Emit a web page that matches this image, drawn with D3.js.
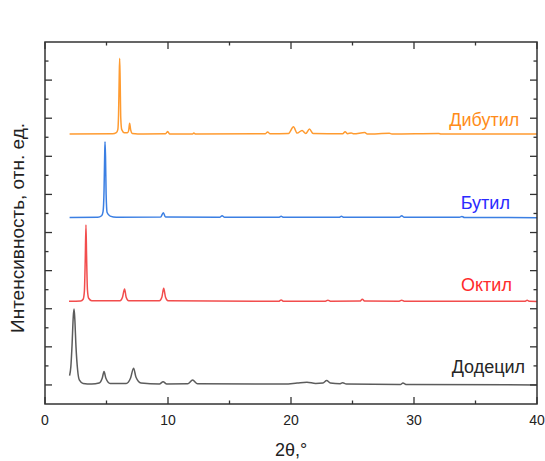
<!DOCTYPE html>
<html>
<head>
<meta charset="utf-8">
<script src="https://cdn.jsdelivr.net/npm/d3@7"></script>
<style>
  html, body { margin: 0; padding: 0; background: #fff; }
  svg { display: block; font-family: Arial, "Liberation Sans", sans-serif; }
</style>
</head>
<body>
<div id="chart"></div>
<script>
// XRD patterns, stacked (in plot units)
const seriesNames = ['Додецил', 'Октил', 'Бутил', 'Дибутил'];
const lineColors = ['#5c5c5c', '#f24d4d', '#3b7fe3', '#ff9b30'];
const labelColors = ['#262626', '#ff2b2b', '#2a2aff', '#ff8c1a'];

const dodecyl = [
  [2.0, 1.49], [2.1, 1.95], [2.2, 3.1], [2.3, 4.6], [2.36, 4.98], [2.42, 4.5], [2.52, 3.0],
  [2.65, 1.8], [2.8, 1.25], [3.1, 1.08], [3.8, 1.05], [4.4, 1.1], [4.65, 1.35], [4.8, 1.70],
  [4.95, 1.35], [5.3, 1.08], [6.6, 1.08], [6.95, 1.35], [7.2, 1.88], [7.4, 1.4], [7.8, 1.1],
  [9.3, 1.05], [9.6, 1.17], [9.9, 1.05], [11.6, 1.06], [12.0, 1.26], [12.4, 1.06],
  [19.5, 1.05], [20.5, 1.1], [21.3, 1.14], [22.0, 1.08], [22.6, 1.1], [22.9, 1.23], [23.2, 1.1],
  [24.0, 1.06], [24.2, 1.12], [24.5, 1.05], [28.9, 1.03], [29.1, 1.1], [29.4, 1.02], [40, 1.0]
];
const octyl = [
  [1.95, 5.39], [2.9, 5.41], [3.1, 5.5], [3.2, 5.9], [3.27, 7.5], [3.33, 9.40], [3.38, 7.8],
  [3.45, 6.0], [3.55, 5.55], [3.8, 5.42], [6.1, 5.42], [6.3, 5.6], [6.47, 6.04], [6.6, 5.6],
  [6.8, 5.42], [9.3, 5.42], [9.5, 5.6], [9.65, 6.07], [9.8, 5.6], [10.0, 5.42], [19.0, 5.39],
  [19.2, 5.46], [19.4, 5.39], [22.8, 5.39], [23.0, 5.45], [23.2, 5.39], [25.6, 5.4], [25.8, 5.5],
  [26.0, 5.4], [28.8, 5.39], [29.0, 5.45], [29.2, 5.39], [39.0, 5.39], [39.2, 5.44], [39.4, 5.39],
  [40, 5.38]
];
const butyl = [
  [2.0, 9.79], [4.3, 9.8], [4.6, 9.88], [4.72, 10.1], [4.8, 11.2], [4.85, 13.0], [4.88, 13.77],
  [4.92, 13.0], [4.97, 11.0], [5.05, 10.05], [5.3, 9.86], [5.8, 9.8], [9.4, 9.81], [9.62, 10.04],
  [9.8, 9.81], [14.2, 9.8], [14.4, 9.88], [14.6, 9.8], [19.0, 9.8], [19.2, 9.85], [19.4, 9.8],
  [23.9, 9.8], [24.1, 9.85], [24.3, 9.8], [28.8, 9.8], [29.0, 9.88], [29.2, 9.8], [33.7, 9.8],
  [33.9, 9.84], [34.1, 9.79], [40, 9.78]
];
const dibutyl = [
  [2.0, 14.17], [5.5, 14.18], [5.8, 14.24], [5.92, 14.4], [5.98, 15.2], [6.03, 17.0], [6.07, 18.15],
  [6.11, 17.0], [6.16, 15.0], [6.24, 14.4], [6.45, 14.24], [6.7, 14.24], [6.8, 14.35], [6.88, 14.73],
  [6.96, 14.4], [7.1, 14.2], [8.0, 14.17], [9.8, 14.18], [9.97, 14.3], [10.15, 14.17], [12.0, 14.17],
  [12.1, 14.22], [12.25, 14.17], [17.9, 14.18], [18.1, 14.28], [18.3, 14.18], [19.8, 14.2],
  [20.2, 14.55], [20.5, 14.22], [20.9, 14.36], [21.2, 14.2], [21.5, 14.43], [21.8, 14.2],
  [24.2, 14.18], [24.4, 14.29], [24.6, 14.19], [24.9, 14.23], [25.1, 14.18], [26.0, 14.25],
  [26.2, 14.17], [28.0, 14.21], [28.2, 14.17], [32.0, 14.2], [32.2, 14.17], [40, 14.17]
];
const seriesData = [dodecyl, octyl, butyl, dibutyl];

const xTicks = [0, 10, 20, 30, 40];
const xMinorTicks = [5, 15, 25, 35];
const yTicks = d3.range(1, 19);

// layout
const W = 545, H = 461;
const M = { left: 45, right: 8, top: 42, bottom: 57 };
const labelPos = [[451.7, 373.3], [461, 291.3], [460.7, 209], [449.3, 125.7]];

const svg = d3.select('#chart').append('svg').attr('width', W).attr('height', H);

const x = d3.scaleLinear().domain([0, 40]).range([M.left, W - M.right]);
const y = d3.scaleLinear().domain([0, 19]).range([H - M.bottom, M.top]);

const line = d3.line()
  .x(d => x(d[0])).y(d => y(d[1]))
  .curve(d3.curveMonotoneX);

// traces
seriesData.forEach((s, i) => {
  svg.append('path')
    .datum(s)
    .attr('d', line)
    .attr('fill', 'none')
    .attr('stroke', lineColors[i])
    .attr('stroke-width', 1.5)
    .attr('stroke-linejoin', 'round');
});

// labels
seriesNames.forEach((n, i) => {
  svg.append('text')
    .attr('x', labelPos[i][0]).attr('y', labelPos[i][1])
    .attr('fill', labelColors[i])
    .attr('font-size', '18px')
    .text(n);
});

const axisColor = '#333';
const x0 = x.range()[0], x1 = x.range()[1];
const y0 = y.range()[0], y1 = y.range()[1];

// x ticks (bottom and top, inward)
const tickG = svg.append('g').attr('stroke', axisColor).attr('stroke-width', 1.3);
xTicks.concat(xMinorTicks).forEach(v => {
  const len = xTicks.includes(v) ? 7 : 3.5;
  tickG.append('line').attr('x1', x(v)).attr('x2', x(v)).attr('y1', y0).attr('y2', y0 - len);
  tickG.append('line').attr('x1', x(v)).attr('x2', x(v)).attr('y1', y1).attr('y2', y1 + len);
});
// y ticks (left and right, inward), odd values long
yTicks.forEach(v => {
  const len = v % 2 === 1 ? 7 : 3.5;
  tickG.append('line').attr('x1', x0).attr('x2', x0 + len).attr('y1', y(v)).attr('y2', y(v));
  tickG.append('line').attr('x1', x1).attr('x2', x1 - len).attr('y1', y(v)).attr('y2', y(v));
});

// frame
svg.append('rect')
  .attr('x', x0).attr('y', y1)
  .attr('width', x1 - x0).attr('height', y0 - y1)
  .attr('fill', 'none').attr('stroke', axisColor).attr('stroke-width', 1.5);

// x tick labels
svg.append('g').selectAll('text')
  .data(xTicks)
  .join('text')
  .attr('x', d => x(d)).attr('y', 424.5)
  .attr('text-anchor', 'middle')
  .attr('font-size', '14px').attr('fill', '#222')
  .text(d => d);

// axis titles
svg.append('text')
  .attr('x', (x0 + x1) / 2).attr('y', 455.5)
  .attr('text-anchor', 'middle')
  .attr('font-size', '18px').attr('fill', '#222')
  .text('2θ,°');

svg.append('text')
  .attr('transform', `translate(24,${(y0 + y1) / 2 + 5}) rotate(-90)`)
  .attr('text-anchor', 'middle')
  .attr('font-size', '19px').attr('fill', '#222')
  .text('Интенсивность, отн. ед.');
</script>
</body>
</html>
